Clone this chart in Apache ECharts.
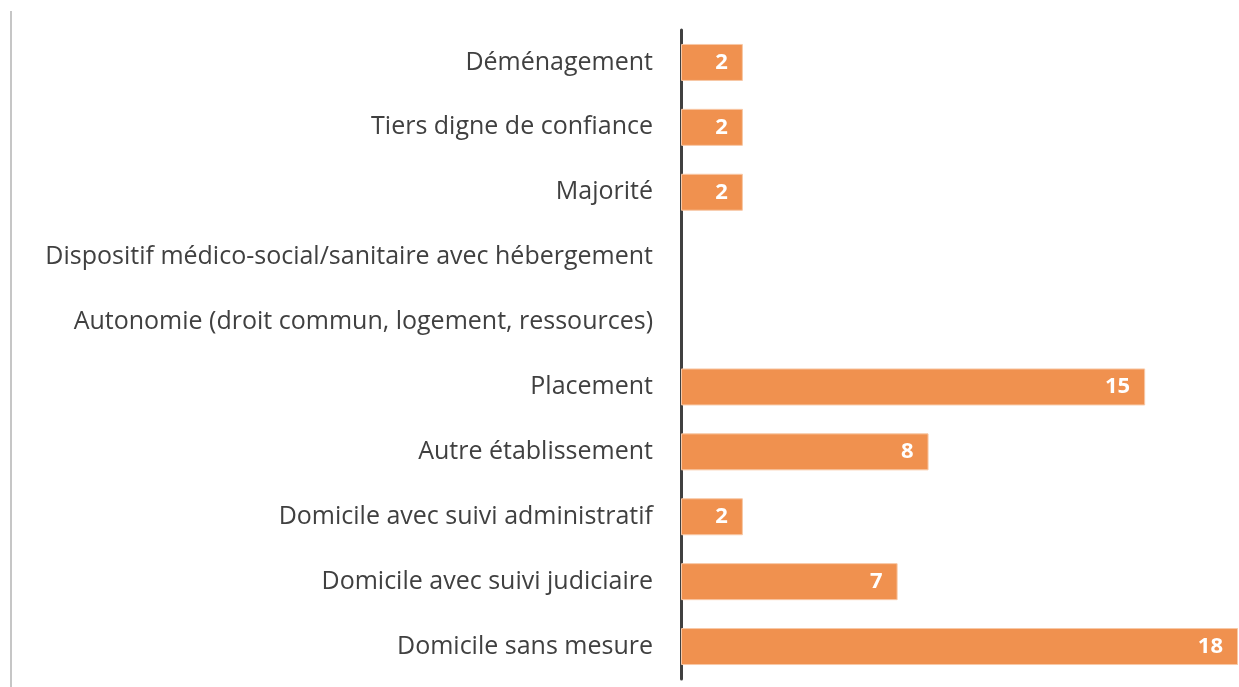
<!DOCTYPE html>
<html>
<head>
<meta charset="utf-8">
<script src="https://cdn.jsdelivr.net/npm/echarts@6/dist/echarts.min.js"></script>
<style>
html,body{margin:0;padding:0;background:#fff;}
#frame{position:absolute;left:10px;top:11px;width:1229px;height:676px;border-left:2px solid #c6c6c6;}
#chart{position:absolute;left:0;top:0;width:1239px;height:687px;}
</style>
</head>
<body>
<div id="frame"></div>
<div id="chart"></div>
<script>
const categories = [
  "Domicile sans mesure",
  "Domicile avec suivi judiciaire",
  "Domicile avec suivi administratif",
  "Autre établissement",
  "Placement",
  "Autonomie (droit commun, logement, ressources)",
  "Dispositif médico-social/sanitaire avec hébergement",
  "Majorité",
  "Tiers digne de confiance",
  "Déménagement"
];
const values = [18, 7, 2, 8, 15, null, null, 2, 2, 2];

const chart = echarts.init(document.getElementById('chart'), null, {renderer: 'canvas'});
chart.setOption({
  animation: false,
  grid: {left: 681, right: 1, top: 30, bottom: 8, containLabel: false},
  xAxis: {
    type: 'value', min: 0, max: 18,
    axisLine: {show: false}, axisTick: {show: false},
    axisLabel: {show: false}, splitLine: {show: false}
  },
  yAxis: {
    type: 'category', data: categories,
    axisLine: {show: true, lineStyle: {color: '#404040', width: 3}},
    axisTick: {show: false},
    axisLabel: {color: '#404040', fontSize: 25, fontFamily: 'Open Sans', margin: 28}
  },
  series: [{
    type: 'bar', data: values, barWidth: 37,
    itemStyle: {color: '#F0914F', borderColor: '#F8C8A6', borderWidth: 1},
    label: {show: true, position: 'insideRight', color: '#fff', fontWeight: 'bold',
            fontSize: 22, fontFamily: 'Open Sans', distance: 15}
  }]
});
</script>
</body>
</html>
